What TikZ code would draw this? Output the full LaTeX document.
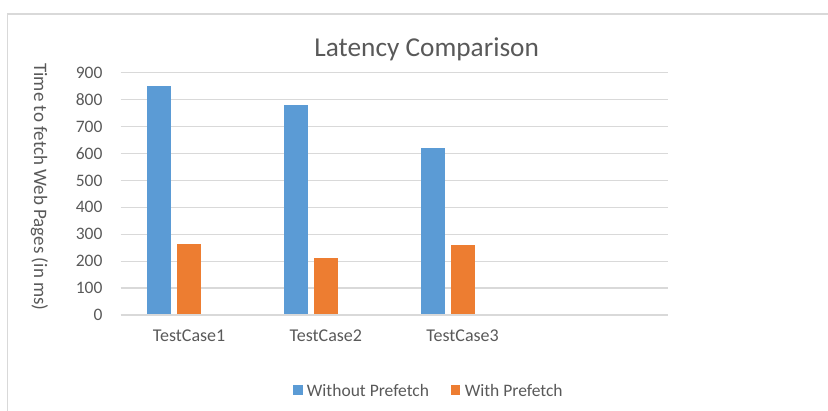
\documentclass[tikz,border=0pt]{standalone}
\usepackage{fontspec}
\setmainfont{Carlito}
\definecolor{barblue}{HTML}{5B9BD5}
\definecolor{barorange}{HTML}{ED7D31}
\definecolor{gridgray}{HTML}{D9D9D9}
\definecolor{labelgray}{HTML}{595959}
\tikzset{
  ticklabel/.style={anchor=east,text=labelgray,font=\fontsize{17.5}{20}\selectfont},
  catlabel/.style={anchor=base,text=labelgray,font=\fontsize{18}{21}\selectfont},
  legendtext/.style={anchor=west,inner sep=0pt,text=labelgray,font=\fontsize{17.5}{20}\selectfont},
  gridline/.style={draw=gridgray,line width=1.2pt}
}
\begin{document}
\begin{tikzpicture}[x=1pt,y=-1pt]
    \useasboundingbox (0,0) rectangle (828,411);
    % Chart frame
    \draw[gridgray,line width=1.5pt] (7.5,411) -- (7.5,14) -- (828,14);

    % Title
    \node[anchor=base,text=labelgray,font=\fontsize{27.3}{32}\selectfont] (title) at (426.7,56.7) {Latency Comparison};

    % Gridlines and tick labels
    \foreach \k in {1,...,9} {
        \draw[gridline] (120.7,{315-26.92*\k}) -- (667.7,{315-26.92*\k});
    }
    \foreach \k in {0,...,9} {
        \pgfmathtruncatemacro{\val}{100*\k}
        \node[ticklabel] (tick\k) at (106,{315-26.92*\k}) {\val};
    }

    % Bars
    \foreach \i/\wo/\wi in {1/851/264, 2/780/212, 3/620/260} {
        \pgfmathsetmacro{\cx}{120.7+136.75*(\i-0.5)}
        \fill[barblue] ({\cx-42},315) rectangle ({\cx-18},{315-0.2692*\wo});
        \fill[barorange] ({\cx-12},315) rectangle ({\cx+12},{315-0.2692*\wi});
        \node[catlabel] (cat\i) at (\cx,341.7) {TestCase\i};
    }

    % Horizontal axis
    \draw[gridgray,line width=1.6pt] (120.7,315) -- (667.7,315);

    % Axis title
    \node[rotate=-90,text=labelgray,font=\fontsize{19}{22}\selectfont] (ytitle) at (39.5,187) {Time to fetch Web Pages (in ms)};

    % Legend
    \fill[barblue] (293.3,385.3) rectangle (302.7,394.7);
    \node[legendtext] (lgwithout) at (306.7,390) {Without Prefetch};
    \fill[barorange] (451,385.3) rectangle (460.4,394.7);
    \node[legendtext] (lgwith) at (464.6,390) {With Prefetch};
\end{tikzpicture}
\end{document}
